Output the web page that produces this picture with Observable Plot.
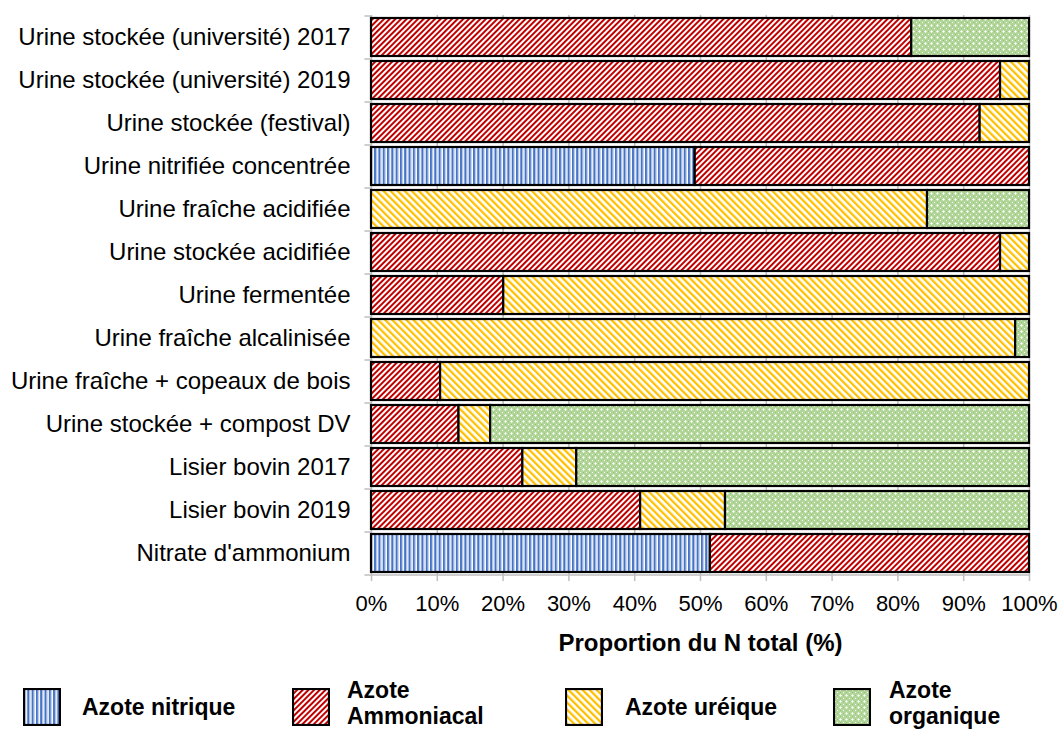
<!DOCTYPE html>
<html>
<head>
<meta charset="utf-8">
<script src="https://cdn.jsdelivr.net/npm/d3@7"></script>
<script src="https://cdn.jsdelivr.net/npm/@observablehq/plot@0.6"></script>
<style>
  body { margin: 0; background: white; font-family: "Liberation Sans", Arial, sans-serif; }
  #wrap { position: relative; width: 1061px; height: 731px; overflow: hidden; }
  .sw { position: absolute; top: 688px; width: 38px; height: 38px; }
  .lt { position: absolute; font-weight: bold; font-size: 23px; line-height: 26px; color: #000; white-space: nowrap; }
</style>
</head>
<body>
<div id="wrap"><div id="chart"></div><div id="legend"></div></div>
<script>
const categories = [
  "Urine stockée (université) 2017",
  "Urine stockée (université) 2019",
  "Urine stockée (festival)",
  "Urine nitrifiée concentrée",
  "Urine fraîche acidifiée",
  "Urine stockée acidifiée",
  "Urine fermentée",
  "Urine fraîche alcalinisée",
  "Urine fraîche + copeaux de bois",
  "Urine stockée + compost DV",
  "Lisier bovin 2017",
  "Lisier bovin 2019",
  "Nitrate d'ammonium"
];
const types = ["Azote nitrique", "Azote Ammoniacal", "Azote uréique", "Azote organique"];
const nitrique   = [0, 0, 0, 49.2, 0, 0, 0, 0, 0, 0, 0, 0, 51.5];
const ammoniacal = [82.1, 95.6, 92.5, 50.8, 0, 95.6, 20.1, 0, 10.5, 13.3, 23.0, 40.9, 48.5];
const ureique    = [0, 4.4, 7.5, 0, 84.5, 4.4, 79.9, 97.9, 89.5, 4.8, 8.2, 12.9, 0];
const organique  = [17.9, 0, 0, 0, 15.5, 0, 0, 2.1, 0, 81.9, 68.8, 46.2, 0];
const xTicks = [0, 10, 20, 30, 40, 50, 60, 70, 80, 90, 100];
const xLabel = "Proportion du N total (%)";
const patternIds = ["pBlue", "pRed", "pYellow", "pGreen"];

const series = [nitrique, ammoniacal, ureique, organique];
const rows = [];
categories.forEach((c, i) => {
  series.forEach((s, k) => {
    if (s[i] > 0) rows.push({cat: c, type: types[k], value: s[i]});
  });
});

const font = "'Liberation Sans', Arial, sans-serif";
const grey = "#bfbfbf";
const lastCat = categories[categories.length - 1];

const svg = Plot.plot({
  width: 1061,
  height: 665,
  marginLeft: 371,
  marginRight: 32,
  marginTop: 15,
  marginBottom: 91,
  style: {fontFamily: font, fontSize: "22px", color: "#000", background: "white"},
  x: {domain: [0, 100], label: null},
  y: {domain: categories, paddingInner: 0.12, paddingOuter: 0.06, label: null},
  color: {type: "ordinal", domain: types, range: patternIds.map(id => `url(#${id})`)},
  marks: [
    Plot.ruleX(xTicks, {stroke: grey, strokeWidth: 1.5}),
    Plot.ruleY(categories, {y: d => d, x1: -1, x2: 0, dy: -21.5, stroke: grey, strokeWidth: 1.5}),
    Plot.ruleY([lastCat], {y: d => d, x1: -1, x2: 100, dy: 21.5, stroke: grey, strokeWidth: 1.5}),
    Plot.barX(rows, Plot.stackX({x: "value", y: "cat", fill: "type", stroke: "black", strokeWidth: 2.2, order: null})),
    Plot.axisX(xTicks, {tickSize: 7, tickPadding: 14, tickFormat: d => d + "%", stroke: grey, strokeWidth: 1.5, fill: "black", fontSize: 22, label: null}),
    Plot.axisY({tickSize: 0, tickPadding: 21, fontSize: 24, fill: "black", label: null}),
    Plot.text([xLabel], {frameAnchor: "bottom", dy: 76, fontSize: 24, fontWeight: "bold", fill: "black"})
  ]
});

// pattern definitions
const ns = "http://www.w3.org/2000/svg";
const defs = document.createElementNS(ns, "defs");
defs.innerHTML = `
  <pattern id="pRed" patternUnits="userSpaceOnUse" width="4" height="4" patternTransform="rotate(45)">
    <rect width="4" height="4" fill="white"/>
    <rect width="2" height="4" fill="#c00000"/>
  </pattern>
  <pattern id="pYellow" patternUnits="userSpaceOnUse" width="5" height="5" patternTransform="rotate(-45)">
    <rect width="5" height="5" fill="white"/>
    <rect width="2.3" height="5" fill="#ffc000"/>
  </pattern>
  <pattern id="pBlue" patternUnits="userSpaceOnUse" width="4.3" height="4">
    <rect width="4.3" height="4" fill="white"/>
    <rect width="2" height="4" fill="#4472c4"/>
    <rect x="2" width="1" height="4" fill="#9fb6e2"/>
  </pattern>
  <pattern id="pGreen" patternUnits="userSpaceOnUse" width="6" height="6">
    <rect width="6" height="6" fill="#b2d69a"/>
    <rect x="1" y="1" width="1" height="1" fill="white"/>
    <rect x="4" y="4" width="1" height="1" fill="white"/>
    <rect x="0" y="1" width="1" height="1" fill="#e6f2de"/>
    <rect x="2" y="1" width="1" height="1" fill="#e6f2de"/>
    <rect x="1" y="0" width="1" height="1" fill="#e6f2de"/>
    <rect x="1" y="2" width="1" height="1" fill="#e6f2de"/>
    <rect x="4" y="1" width="1" height="1" fill="#8fc271"/>
    <rect x="1" y="4" width="1" height="1" fill="#8fc271"/>
  </pattern>`;
svg.insertBefore(defs, svg.firstChild);
document.getElementById("chart").appendChild(svg);

// legend
const legendItems = [
  {i: 0, sx: 23, tx: 82, lines: ["Azote nitrique"]},
  {i: 1, sx: 292, tx: 347, lines: ["Azote", "Ammoniacal"]},
  {i: 2, sx: 565, tx: 625, lines: ["Azote uréique"]},
  {i: 3, sx: 833, tx: 889, lines: ["Azote", "organique"]}
];
const leg = document.getElementById("legend");
legendItems.forEach(it => {
  const s = document.createElementNS(ns, "svg");
  s.setAttribute("class", "sw");
  s.setAttribute("width", 38);
  s.setAttribute("height", 38);
  s.style.left = it.sx + "px";
  s.innerHTML = `<rect x="1" y="1" width="36" height="36" fill="url(#${patternIds[it.i]})" stroke="black" stroke-width="2.2"/>`;
  leg.appendChild(s);
  const t = document.createElement("div");
  t.className = "lt";
  t.style.left = it.tx + "px";
  t.style.top = (it.lines.length === 1 ? 694 : 677) + "px";
  t.innerHTML = it.lines.join("<br>");
  leg.appendChild(t);
});
</script>
</body>
</html>
